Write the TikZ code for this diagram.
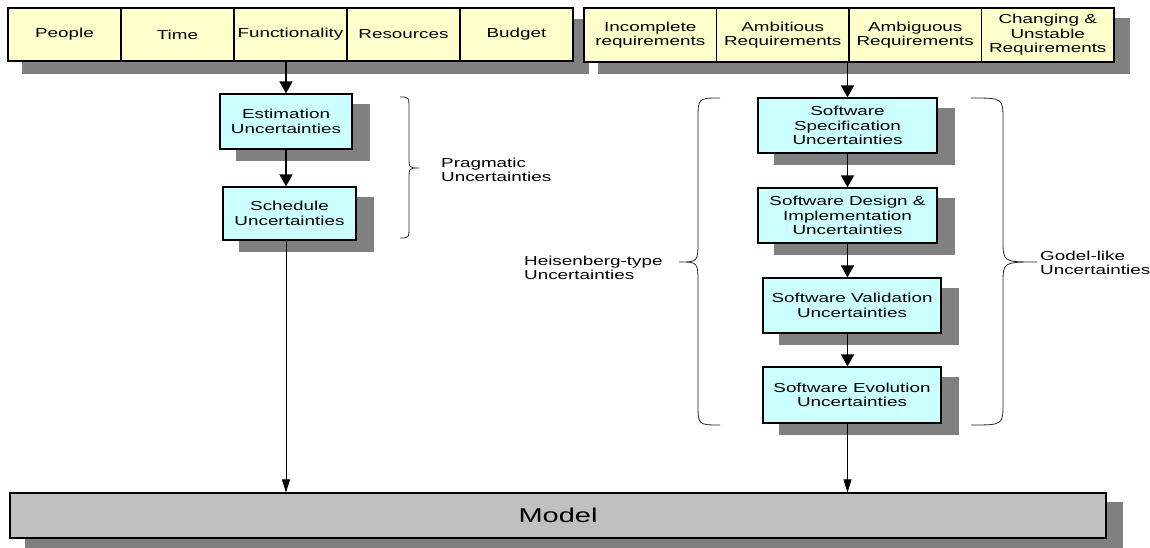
\documentclass[tikz,border=0pt]{standalone}
\usepackage{fontspec}
\setmainfont{Liberation Sans}[FakeStretch=1.45]
\usetikzlibrary{arrows.meta,backgrounds}
\definecolor{boxyellow}{HTML}{FFFFCC}
\definecolor{boxcyan}{HTML}{CCFFFF}
\definecolor{modelgray}{HTML}{C0C0C0}
\definecolor{shadowgray}{HTML}{808080}
\tikzset{
  base/.style={draw=black, line width=1.2pt, inner sep=0pt, align=center,
    font=\fontsize{13}{14.5}\selectfont},
  leftfactor/.style={base, fill=boxyellow, minimum width=113pt, minimum height=53pt},
  rightfactor/.style={base, fill=boxyellow, minimum width=132.5pt, minimum height=54pt},
  unc/.style={base, fill=boxcyan, minimum height=55pt},
  modelbox/.style={draw=black, line width=1.2pt, fill=modelgray, minimum width=1096pt,
    minimum height=45pt, inner sep=0pt, font=\fontsize{20}{24}\selectfont},
  lbl/.style={inner sep=0pt, align=left, font=\fontsize{13}{14.5}\selectfont},
  arr/.style={line width=1.6pt, -{Triangle[length=12pt,width=13pt]}},
  thinarr/.style={line width=0.9pt, -{Triangle[length=13pt,width=8pt]}},
  bracepath/.style={line width=0.8pt, draw=black!85},
  shade/.style={fill=shadowgray}
}
\begin{document}
\begin{tikzpicture}[x=1pt, y=-1pt]
\useasboundingbox (0,0) rectangle (1150,548);

% top left row
\node[leftfactor] (people) at (64.5,34.5) {People};
\node[leftfactor] (time) at (177.5,34.5) {Time};
\node[leftfactor] (func) at (290.5,34.5) {Functionality};
\node[leftfactor] (res) at (403.5,34.5) {Resources};
\node[leftfactor] (budget) at (516.5,34.5) {Budget};

% top right row
\node[rightfactor] (incomp) at (650.25,35) {Incomplete\\requirements};
\node[rightfactor] (ambit) at (782.75,35) {Ambitious\\Requirements};
\node[rightfactor] (ambig) at (915.25,35) {Ambiguous\\Requirements};
\node[rightfactor] (chang) at (1047.75,35) {Changing \&\\Unstable\\Requirements};

% left chain
\node[unc, minimum width=132pt] (est) at (286,121.5) {Estimation\\Uncertainties};
\node[unc, minimum width=133pt, minimum height=53pt] (sched) at (289.5,213.5) {Schedule\\Uncertainties};

% right chain
\node[unc, minimum width=179pt] (spec) at (847.5,125.5) {Software\\Specification\\Uncertainties};
\node[unc, minimum width=179pt] (design) at (847.5,215.5) {Software Design \&\\Implementation\\Uncertainties};
\node[unc, minimum width=178pt] (val) at (852,305.5) {Software Validation\\Uncertainties};
\node[unc, minimum width=178pt, minimum height=56pt] (evo) at (852,395) {Software Evolution\\Uncertainties};

% model
\node[modelbox] (model) at (558,515.5) {Model};

% labels
\node[lbl, anchor=west] (prag) at (441,170) {Pragmatic\\Uncertainties};
\node[lbl, anchor=west] (heis) at (524,268) {Heisenberg-type\\Uncertainties};
\node[lbl, anchor=west] (godel) at (1040,263) {Godel-like\\Uncertainties};

% braces
\draw[bracepath] (400,97) .. controls (409,97) .. (409,109) -- (409,156)
  .. controls (409,168) .. (419,168) .. controls (409,168) .. (409,180)
  -- (409,226) .. controls (409,238) .. (400,238);
\draw[bracepath] (720,98) .. controls (698,98) .. (698,120) -- (698,240)
  .. controls (698,262) .. (679,262) .. controls (698,262) .. (698,284)
  -- (698,403) .. controls (698,425) .. (720,425);
\draw[bracepath] (971,98) .. controls (1003,98) .. (1003,120) -- (1003,240)
  .. controls (1003,262) .. (1037,262) .. controls (1003,262) .. (1003,284)
  -- (1003,403) .. controls (1003,425) .. (971,425);

% connectors
\draw[arr] (est.north |- func.south) -- (est.north);
\draw[arr] (est.south) -- (est.south |- sched.north);
\draw[thinarr] (sched.south -| est.south) -- (est.south |- model.north);
\draw[arr] (spec.north |- ambit.south) -- (spec.north);
\draw[arr] (spec.south) -- (design.north);
\draw[arr] (design.south) -- (design.south |- val.north);
\draw[arr] (val.south -| design.south) -- (design.south |- evo.north);
\draw[thinarr] (evo.south -| design.south) -- (design.south |- model.north);

% shadows and background
\begin{scope}[on background layer]
  \fill[white] (0,0) rectangle (1150,548);
  \fill[shade] ([shift={(15,12)}]people.north west) rectangle ([shift={(15,12)}]budget.south east);
  \fill[shade] ([shift={(15,11)}]incomp.north west) rectangle ([shift={(15,11)}]chang.south east);
  \foreach \n in {est,sched,spec,design,val,evo}
    \fill[shade] ([shift={(17,11)}]\n.north west) rectangle ([shift={(17,11)}]\n.south east);
  \fill[shade] ([shift={(16,10)}]model.north west) rectangle ([shift={(16,10)}]model.south east);
\end{scope}
\end{tikzpicture}
\end{document}
